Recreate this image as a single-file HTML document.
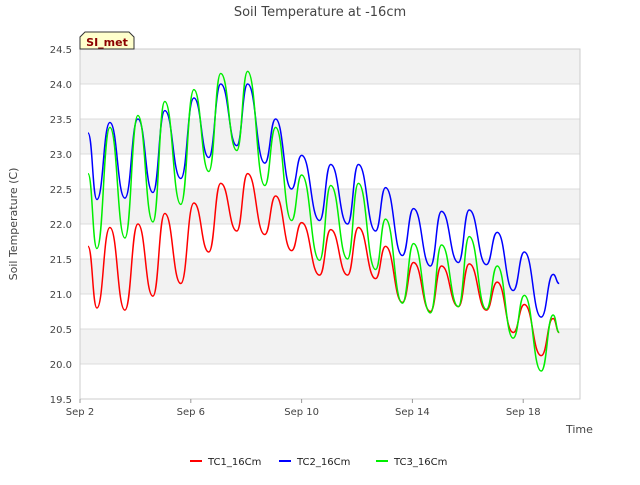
<!DOCTYPE html>
<html><head><meta charset="utf-8"><style>
body{margin:0;background:#fff;font-family:"Liberation Sans","DejaVu Sans",sans-serif;}
svg text{font-family:"DejaVu Sans","Liberation Sans",sans-serif;}
</style></head><body>
<svg id="c" width="640" height="480" xmlns="http://www.w3.org/2000/svg">
<text x="320" y="16" text-anchor="middle" font-size="13" fill="#444">Soil Temperature at -16cm</text>
<g id="plot"></g>
<text transform="translate(17,224) rotate(-90)" text-anchor="middle" font-size="11" fill="#444">Soil Temperature (C)</text>
<text x="566" y="433" font-size="11" fill="#444">Time</text>
<g>
<path d="M80,49 L80,37 L85,32 L129,32 L134,37 L134,49 Z" fill="#ffffcc" stroke="#333" stroke-width="1"/>
<text x="107" y="46" text-anchor="middle" font-size="11" font-weight="bold" fill="#8b0000">SI_met</text>
</g>
<g id="legend"></g>
</svg>
<script>
const times=[2.29,2.61,3.08,3.62,4.09,4.63,5.06,5.64,6.11,6.65,7.08,7.66,8.05,8.67,9.06,9.64,10.0,10.65,11.05,11.66,12.05,12.67,13.03,13.64,14.04,14.65,15.05,15.66,16.05,16.67,17.06,17.64,18.04,18.65,19.08,19.3];
const tc1=[21.68,20.8,21.95,20.77,22.0,20.97,22.15,21.15,22.3,21.6,22.58,21.9,22.72,21.85,22.4,21.62,22.02,21.27,21.92,21.27,21.95,21.22,21.68,20.88,21.45,20.75,21.4,20.82,21.43,20.77,21.17,20.45,20.85,20.12,20.65,20.45];
const tc2=[23.3,22.35,23.45,22.37,23.5,22.45,23.62,22.65,23.8,22.95,24.0,23.12,24.0,22.87,23.5,22.5,22.98,22.05,22.85,22.0,22.85,21.9,22.52,21.55,22.22,21.4,22.18,21.45,22.2,21.42,21.88,21.05,21.6,20.67,21.28,21.15];
const tc3=[22.72,21.65,23.38,21.8,23.55,22.03,23.75,22.28,23.92,22.75,24.15,23.05,24.18,22.55,23.38,22.05,22.7,21.48,22.55,21.5,22.58,21.35,22.07,20.87,21.72,20.73,21.7,20.82,21.82,20.78,21.4,20.37,20.98,19.9,20.7,20.45];
const yTicks=[19.5,20.0,20.5,21.0,21.5,22.0,22.5,23.0,23.5,24.0,24.5];
const xTickDays=[2,6,10,14,18];
const xTickLabels=["Sep 2","Sep 6","Sep 10","Sep 14","Sep 18"];
const seriesNames=["TC1_16Cm","TC2_16Cm","TC3_16Cm"];
const seriesColors=["#ff0000","#0000ff","#00ee00"];
const X0=80,X1=580,Y0=49,Y1=399,D0=2,D1=20.05,V0=19.5,V1=24.5;
const xs=d=>X0+(d-D0)/(D1-D0)*(X1-X0);
const ys=v=>Y1-(v-V0)/(V1-V0)*(Y1-Y0);
const NS="http://www.w3.org/2000/svg";
const plot=document.getElementById('plot');
function mk(tag,at,parent){const e=document.createElementNS(NS,tag);for(const k in at)e.setAttribute(k,at[k]);(parent||plot).appendChild(e);return e;}
for(let i=0;i<yTicks.length-1;i++){
  if(i%2===1){const r=mk('rect',{x:X0,y:ys(yTicks[i+1]),width:X1-X0,height:ys(yTicks[i])-ys(yTicks[i+1]),fill:'#f2f2f2'});
  
  }
}
yTicks.forEach(v=>{
  const l=mk('line',{x1:X0,x2:X1,y1:ys(v),y2:ys(v),stroke:'#dcdcdc','stroke-width':1});
  
  
  const t=mk('text',{x:X0-8,y:ys(v)+4,'text-anchor':'end','font-size':10,fill:'#444'});
  t.textContent=v.toFixed(1);
  
  
});
const fr=mk('rect',{x:X0,y:Y0,width:X1-X0,height:Y1-Y0,fill:'none',stroke:'#ccc'});


xTickDays.forEach((d,i)=>{
  const tk=mk('line',{x1:xs(d),x2:xs(d),y1:Y1,y2:Y1+4,stroke:'#999'});
  
  
  const t=mk('text',{x:xs(d),y:Y1+16,'text-anchor':'middle','font-size':10,fill:'#444'});
  t.textContent=xTickLabels[i];
  
  
});
function pathFor(vals){
  const p=times.map((t,i)=>[xs(t),ys(vals[i])]);
  let d='M'+p[0][0].toFixed(1)+','+p[0][1].toFixed(1);
  for(let i=0;i<p.length-1;i++){
    const a=p[i],b=p[i+1],dx=(b[0]-a[0])/2;
    d+=' C'+(a[0]+dx).toFixed(1)+','+a[1].toFixed(1)+' '+(b[0]-dx).toFixed(1)+','+b[1].toFixed(1)+' '+b[0].toFixed(1)+','+b[1].toFixed(1);
  }
  return d;
}
[tc1,tc2,tc3].forEach((vals,i)=>{
  const l=mk('path',{d:pathFor(vals),fill:'none',stroke:seriesColors[i],'stroke-width':1.5});
  
  
});
const leg=document.getElementById('legend');
const legX=[190,279,376];
seriesNames.forEach((n,i)=>{
  const g=mk('g',{},leg);
  
  
  mk('line',{x1:legX[i],x2:legX[i]+12,y1:461,y2:461,stroke:seriesColors[i],'stroke-width':2},g);
  const t=mk('text',{x:legX[i]+18,y:465,'font-size':10,fill:'#222'},g);
  t.textContent=n;
});
</script>
</body></html>
